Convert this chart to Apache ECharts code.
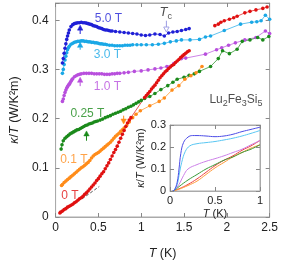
<!DOCTYPE html>
<html><head><meta charset="utf-8">
<script src="https://cdn.jsdelivr.net/npm/echarts@6/dist/echarts.min.js"></script>
<style>html,body{margin:0;padding:0;background:#fff}#c{width:281px;height:265px}</style>
</head><body><div id="c"></div>
<script>
// ---------- main panel data (T in K, kappa/T in W/K^2m) ----------
const b5 = [[0.08,0.313],[0.09,0.322],[0.10,0.333],[0.11,0.343],[0.12,0.352],[0.13,0.361],[0.14,0.368],[0.15,0.374],[0.16,0.380],[0.18,0.387],[0.20,0.391],[0.22,0.393],[0.24,0.394],[0.26,0.395],[0.28,0.395],[0.30,0.396],[0.32,0.395],[0.34,0.395],[0.36,0.394],[0.38,0.393],[0.40,0.392],[0.42,0.391],[0.44,0.389],[0.46,0.388],[0.48,0.387],[0.50,0.385],[0.52,0.384],[0.54,0.383],[0.56,0.381],[0.58,0.380],[0.60,0.380],[0.62,0.379],[0.64,0.378],[0.66,0.378],[0.70,0.377],[0.75,0.376],[0.80,0.375],[0.85,0.374],[0.90,0.373],[0.95,0.372],[1.00,0.370],[1.05,0.369],[1.10,0.370],[1.16,0.372],[1.22,0.371],[1.27,0.368],[1.32,0.374],[1.37,0.376],[1.42,0.377],[1.47,0.379],[1.52,0.381],[1.56,0.383]];
const b3 = [[0.08,0.292],[0.09,0.300],[0.10,0.310],[0.11,0.319],[0.12,0.327],[0.13,0.334],[0.14,0.340],[0.15,0.344],[0.16,0.347],[0.18,0.351],[0.20,0.353],[0.22,0.355],[0.24,0.356],[0.26,0.357],[0.28,0.357],[0.30,0.358],[0.32,0.358],[0.34,0.357],[0.36,0.357],[0.38,0.356],[0.40,0.356],[0.42,0.355],[0.44,0.355],[0.46,0.354],[0.48,0.354],[0.50,0.353],[0.52,0.352],[0.54,0.352],[0.56,0.351],[0.58,0.351],[0.60,0.350],[0.63,0.349],[0.66,0.349],[0.69,0.348],[0.72,0.348],[0.75,0.348],[0.78,0.348],[0.81,0.349],[0.84,0.349],[0.87,0.349],[0.90,0.350],[0.95,0.350],[1.00,0.350],[1.06,0.350],[1.13,0.350],[1.20,0.351],[1.27,0.353],[1.34,0.356],[1.41,0.358],[1.47,0.360],[1.57,0.360],[1.68,0.361],[1.75,0.366],[1.81,0.368],[1.97,0.379],[2.16,0.392],[2.29,0.396],[2.35,0.397],[2.40,0.399],[2.45,0.410],[2.50,0.402]];
const v1 = [[0.08,0.235],[0.09,0.240],[0.10,0.247],[0.11,0.253],[0.12,0.258],[0.13,0.262],[0.14,0.265],[0.15,0.268],[0.16,0.270],[0.17,0.273],[0.18,0.276],[0.19,0.279],[0.20,0.281],[0.22,0.285],[0.24,0.287],[0.26,0.289],[0.28,0.290],[0.30,0.291],[0.33,0.292],[0.36,0.292],[0.39,0.292],[0.42,0.292],[0.45,0.291],[0.48,0.291],[0.51,0.291],[0.54,0.291],[0.57,0.290],[0.60,0.290],[0.63,0.290],[0.66,0.291],[0.69,0.291],[0.72,0.292],[0.75,0.292],[0.80,0.293],[0.85,0.294],[0.92,0.296],[1.00,0.297],[1.08,0.299],[1.16,0.301],[1.23,0.303],[1.30,0.306],[1.38,0.312],[1.47,0.322],[1.52,0.323],[1.75,0.331],[1.88,0.340],[1.94,0.344],[2.02,0.349],[2.10,0.354],[2.21,0.360],[2.34,0.365],[2.45,0.378],[2.50,0.373]];
const g025 = [[0.065,0.138],[0.075,0.147],[0.09,0.155],[0.11,0.160],[0.13,0.163],[0.15,0.166],[0.17,0.169],[0.19,0.171],[0.21,0.173],[0.23,0.175],[0.25,0.177],[0.27,0.178],[0.29,0.180],[0.31,0.182],[0.33,0.184],[0.35,0.186],[0.37,0.187],[0.39,0.189],[0.41,0.190],[0.43,0.191],[0.45,0.193],[0.47,0.194],[0.49,0.195],[0.52,0.197],[0.55,0.199],[0.58,0.202],[0.61,0.204],[0.64,0.206],[0.67,0.209],[0.70,0.211],[0.73,0.213],[0.76,0.215],[0.79,0.218],[0.82,0.220],[0.85,0.223],[0.88,0.225],[0.91,0.228],[0.94,0.231],[0.97,0.234],[1.00,0.237],[1.04,0.241],[1.10,0.245],[1.16,0.251],[1.23,0.259],[1.31,0.267],[1.37,0.274],[1.42,0.280],[1.50,0.284],[1.56,0.288],[1.62,0.291],[1.68,0.296],[1.81,0.306],[1.90,0.322],[1.95,0.338],[2.03,0.332],[2.12,0.341],[2.18,0.357],[2.27,0.360],[2.36,0.365],[2.42,0.360],[2.49,0.367]];
const o01 = [[0.07,0.064],[0.08,0.066],[0.10,0.070],[0.12,0.073],[0.14,0.076],[0.16,0.079],[0.18,0.082],[0.20,0.085],[0.22,0.088],[0.24,0.091],[0.26,0.094],[0.28,0.097],[0.30,0.100],[0.32,0.102],[0.34,0.105],[0.36,0.108],[0.38,0.111],[0.40,0.115],[0.42,0.120],[0.44,0.124],[0.46,0.127],[0.48,0.129],[0.50,0.131],[0.52,0.134],[0.54,0.137],[0.56,0.140],[0.58,0.143],[0.60,0.146],[0.62,0.149],[0.64,0.152],[0.66,0.156],[0.68,0.160],[0.70,0.164],[0.72,0.167],[0.74,0.170],[0.76,0.174],[0.78,0.177],[0.80,0.181],[0.83,0.186],[0.86,0.193],[0.90,0.202],[0.94,0.209],[0.99,0.216],[1.10,0.226],[1.21,0.235],[1.27,0.242],[1.36,0.258],[1.44,0.267],[1.51,0.280],[1.58,0.287],[1.64,0.293],[1.71,0.306]];
const r0a = [[0.05,0.008],[0.06,0.010],[0.08,0.012],[0.10,0.015],[0.12,0.017],[0.14,0.020],[0.16,0.022],[0.18,0.024],[0.20,0.026],[0.22,0.029],[0.24,0.031],[0.26,0.034],[0.28,0.037],[0.30,0.039],[0.32,0.042],[0.34,0.046],[0.36,0.049],[0.38,0.053],[0.40,0.057],[0.42,0.061],[0.44,0.065],[0.46,0.069],[0.48,0.074],[0.50,0.078],[0.52,0.083],[0.54,0.088],[0.56,0.092],[0.58,0.098],[0.60,0.104],[0.62,0.110],[0.64,0.117],[0.66,0.124],[0.68,0.131],[0.70,0.137],[0.72,0.144],[0.74,0.152],[0.76,0.160],[0.78,0.168],[0.80,0.176],[0.82,0.184],[0.84,0.191],[0.86,0.197],[0.88,0.202]];
const r0b = [[1.04,0.243],[1.06,0.247],[1.08,0.251],[1.10,0.255],[1.12,0.260],[1.14,0.264],[1.16,0.268],[1.18,0.273],[1.20,0.278],[1.22,0.283],[1.24,0.287],[1.26,0.291],[1.28,0.295],[1.30,0.298],[1.32,0.302],[1.34,0.305],[1.36,0.308],[1.38,0.310],[1.40,0.314],[1.42,0.317],[1.44,0.320],[1.46,0.324],[1.48,0.327],[1.50,0.330],[1.52,0.333],[1.54,0.336],[1.56,0.338]];
const r0c = [[1.86,0.389],[1.90,0.392],[1.93,0.396],[1.97,0.399],[2.03,0.402],[2.08,0.405],[2.12,0.408],[2.21,0.415],[2.27,0.418],[2.34,0.421],[2.42,0.424],[2.47,0.427]];
const fitLine = [[0.31,0.037],[0.51,0.062]];

// ---------- inset data ----------
const i5 = [[0.03,0],[0.05,0.005],[0.08,0.04],[0.10,0.10],[0.12,0.17],[0.15,0.22],[0.20,0.245],[0.25,0.252],[0.30,0.252],[0.40,0.25],[0.50,0.247],[0.60,0.25],[0.70,0.258],[0.80,0.27],[0.90,0.28],[1.0,0.29]];
const i3 = [[0.03,0],[0.05,0.005],[0.08,0.03],[0.10,0.07],[0.13,0.13],[0.17,0.18],[0.22,0.205],[0.30,0.215],[0.40,0.22],[0.50,0.225],[0.60,0.232],[0.70,0.24],[0.80,0.25],[0.90,0.262],[1.0,0.275]];
const i1 = [[0.03,0],[0.05,0.005],[0.10,0.03],[0.15,0.07],[0.20,0.10],[0.30,0.12],[0.40,0.135],[0.50,0.147],[0.60,0.16],[0.70,0.175],[0.80,0.19],[0.90,0.21],[1.0,0.23]];
const i025 = [[0.03,0],[0.05,0.003],[0.10,0.02],[0.20,0.05],[0.30,0.075],[0.40,0.10],[0.50,0.12],[0.60,0.14],[0.70,0.155],[0.80,0.175],[0.90,0.19],[1.0,0.21]];
const i0 = [[0.03,0],[0.05,0.003],[0.10,0.01],[0.20,0.03],[0.30,0.055],[0.40,0.085],[0.50,0.115],[0.60,0.14],[0.70,0.16],[0.80,0.185],[0.90,0.205],[1.0,0.23]];
const i01 = [[0.03,0],[0.05,0.002],[0.10,0.008],[0.20,0.025],[0.30,0.045],[0.40,0.075],[0.50,0.105],[0.60,0.13],[0.70,0.155],[0.80,0.175],[0.90,0.195],[1.0,0.21]];

// ---------- annotations ----------
const labelText = ['5.0 T','3.0 T','1.0 T','0.25 T','0.1 T','0 T','{i|T}{s|c}','Lu{s|2}Fe{s|3}Si{s|5}'];
const labelX    = [0.617, 0.606, 0.606, 0.372, 0.213, 0.167, 1.287, 2.106];
const labelY    = [0.404, 0.329, 0.265, 0.210, 0.117, 0.043, 0.415, 0.238];
const labelColor= ['#1f1fd6','#1aa8e6','#b84fdd','#1b8a1b','#ff8c1a','#e01010','#222','#222'];
// arrows: x, tail y, tip y, colour index, hollow
const arrowX    = [0.287, 0.287, 0.287, 0.361, 0.795, 1.294];
const arrowTail = [0.372, 0.340, 0.266, 0.155, 0.206, 0.399];
const arrowTip  = [0.390, 0.355, 0.284, 0.175, 0.189, 0.376];
const arrowColor= ['#1f1fd6','#1aa8e6','#b84fdd','#1b8a1b','#ff8c1a','#9b9be3'];
const arrowHollow=[0,0,0,0,0,1];

const FONT = 'Liberation Sans, Arial, Helvetica, sans-serif';
const AX = '#aaaaaa', TXT = '#222';

function lbl(v){ return Math.abs(v*10-Math.round(v*10))<1e-6 ? String(Math.round(v*10)/10) : ''; }
function lblx(v){ return Math.abs(v*2-Math.round(v*2))<1e-6 ? String(Math.round(v*2)/2) : ''; }

function axisBase(extra){
  return Object.assign({
    type:'value', splitLine:{show:false},
    axisLine:{show:true, onZero:false, lineStyle:{color:AX, width:1}},
    axisTick:{show:true, inside:true, length:4, lineStyle:{color:'#888', width:1}},
  }, extra);
}

const chart = echarts.init(document.getElementById('c'), null, {renderer:'canvas'});

function dotSeries(data, color, size){
  return {type:'line', xAxisIndex:0, yAxisIndex:0, data:data, symbol:'circle', symbolSize:size||3.6,
    showAllSymbol:true, itemStyle:{color:color}, lineStyle:{color:color, width:0.7}, animation:false, z:3};
}
function insetSeries(data, color){
  return {type:'line', xAxisIndex:2, yAxisIndex:2, data:data, symbol:'none', smooth:0.4,
    lineStyle:{color:color, width:1}, animation:false, z:5};
}

const annData = labelText.map((t,i)=>({value:[labelX[i],labelY[i]], label:{formatter:t, color:labelColor[i]}}));
const arrowData = arrowX.map((x,i)=>[x, arrowTail[i], arrowTip[i], i, arrowHollow[i]]);

chart.setOption({
  animation:false,
  backgroundColor:'#fff',
  grid:[
    {left:47, right:9, top:3, bottom:36, show:true, borderColor:AX, borderWidth:1, backgroundColor:'transparent'},
    {left:170, right:21, top:125, bottom:74, show:true, borderColor:AX, borderWidth:1, backgroundColor:'#fff', z:4}
  ],
  xAxis:[
    axisBase({gridIndex:0, min:0, max:2.5, interval:0.5, position:'bottom',
      axisLabel:{color:TXT, fontSize:12, fontFamily:FONT, margin:5, formatter:lblx},
      name:'{i|T} (K)', nameLocation:'middle', nameGap:30,
      nameTextStyle:{fontSize:12.5, color:TXT, fontFamily:FONT, rich:{i:{fontStyle:'italic',fontSize:12.5,fontFamily:FONT}}}}),
    axisBase({gridIndex:0, min:0, max:2.5, interval:0.5, position:'top', axisLabel:{show:false}}),
    axisBase({gridIndex:1, min:0, max:1, interval:0.5, position:'bottom', z:6,
      axisLabel:{color:TXT, fontSize:11, fontFamily:FONT, margin:4, formatter:lblx},
      name:'{i|T} (K)', nameLocation:'middle', nameGap:17,
      nameTextStyle:{fontSize:11, color:TXT, fontFamily:FONT, rich:{i:{fontStyle:'italic',fontSize:11,fontFamily:FONT}}}}),
    axisBase({gridIndex:1, min:0, max:1, interval:0.5, position:'top', z:6, axisLabel:{show:false}})
  ],
  yAxis:[
    axisBase({gridIndex:0, min:0, max:0.435, interval:0.1, position:'left',
      axisLabel:{color:TXT, fontSize:12, fontFamily:FONT, margin:7, formatter:lbl},
      name:'{i|κ}/{i|T} (W/K²m)', nameLocation:'middle', nameGap:33, nameRotate:90,
      nameTextStyle:{fontSize:12.5, color:TXT, fontFamily:FONT, rich:{i:{fontStyle:'italic',fontSize:12.5,fontFamily:FONT}}}}),
    axisBase({gridIndex:0, min:0, max:0.435, interval:0.1, position:'right', axisLabel:{show:false}}),
    axisBase({gridIndex:1, min:0, max:0.3, interval:0.1, position:'left', z:6,
      axisLabel:{color:TXT, fontSize:11, fontFamily:FONT, margin:4, formatter:lbl},
      name:'{i|κ}/{i|T} (W/K²m)', nameLocation:'middle', nameGap:21, nameRotate:90,
      nameTextStyle:{fontSize:11, color:TXT, fontFamily:FONT, rich:{i:{fontStyle:'italic',fontSize:11,fontFamily:FONT}}}}),
    axisBase({gridIndex:1, min:0, max:0.3, interval:0.1, position:'right', z:6, axisLabel:{show:false}})
  ],
  series:[
    {type:'line', xAxisIndex:0, yAxisIndex:0, data:fitLine, symbol:'none', lineStyle:{color:'#555', width:1, type:[3,2]}, z:2},
    dotSeries(v1,'#b84fdd'),
    dotSeries(g025,'#1b8a1b'),
    dotSeries(o01,'#ff8c1a'),
    dotSeries(b3,'#1aa8e6'),
    dotSeries(b5,'#1f1fd6'),
    dotSeries(r0a.concat(r0b),'#e01010'),
    dotSeries(r0c,'#e01010'),
    insetSeries(i0,'#ee4040'),
    insetSeries(i01,'#ff9a3a'),
    insetSeries(i025,'#3a9a3a'),
    insetSeries(i1,'#cc80e8'),
    insetSeries(i3,'#58c6f2'),
    insetSeries(i5,'#4c4ce6'),
    {type:'custom', xAxisIndex:0, yAxisIndex:0, data:arrowData, z:6,
      renderItem:function(params, api){
        const x=api.value(0), yt=api.value(1), yh=api.value(2), ci=api.value(3), hol=api.value(4);
        const p0=api.coord([x,yt]), p1=api.coord([x,yh]);
        const dir = p1[1] > p0[1] ? 1 : -1;
        const h=5, w=2.7;
        const base = p1[1] - dir*h;
        const col = arrowColor[ci];
        return {type:'group', children:[
          {type:'line', shape:{x1:p0[0], y1:p0[1], x2:p0[0], y2:base}, style:{stroke:col, lineWidth:1}},
          {type:'polygon', shape:{points:[[p1[0],p1[1]],[p1[0]-w,base],[p1[0]+w,base]]},
            style:{fill: hol ? '#fff' : col, stroke:col, lineWidth: hol?0.9:0.5}}
        ]};
      }},
    {type:'scatter', xAxisIndex:0, yAxisIndex:0, data:annData, symbolSize:0, z:7, silent:true,
      label:{show:true, position:'inside', fontSize:12, fontFamily:FONT,
        rich:{i:{fontStyle:'italic', fontSize:13, fontFamily:FONT, color:'#222'},
              s:{fontSize:9, fontFamily:FONT, padding:[7,0,0,0], color:'#222'}}}}
  ]
});
</script></body></html>
